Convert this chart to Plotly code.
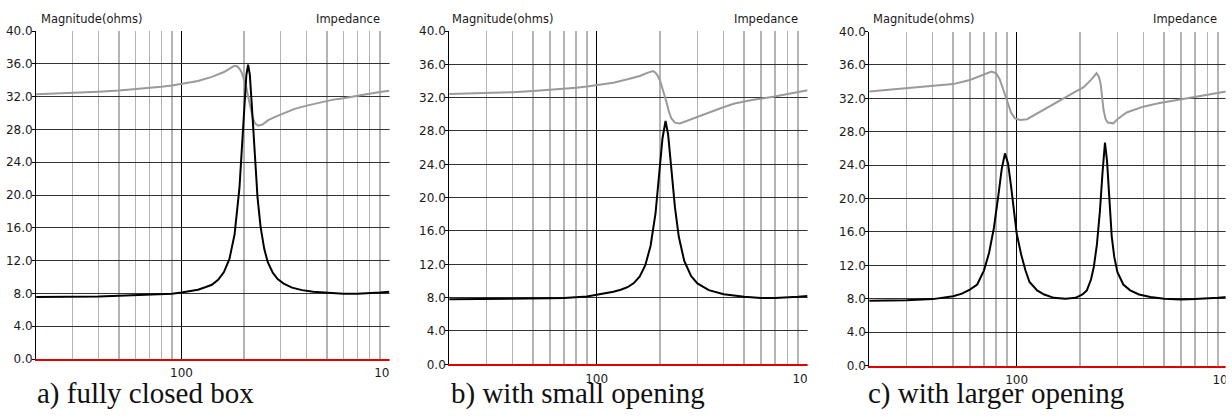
import math
import plotly.graph_objects as go

W, H = 1232, 416

# ---------------- data ----------------
# a) fully closed box
freq_a_mag = [20, 30, 40, 50, 60, 70, 80, 90, 100, 110, 120, 130, 140, 150, 160, 170, 180, 190, 195, 200,
              205, 209, 213, 218, 225, 232, 240, 250, 260, 275, 290, 310, 340, 380, 430, 500, 600, 700, 800, 900, 1000]
mag_a = [7.56, 7.58, 7.62, 7.7, 7.75, 7.8, 7.85, 7.95, 8.1, 8.25, 8.45, 8.75, 9.05, 9.65, 10.6, 12.2, 15.2, 20.9, 25.3, 30.4,
         34.6, 35.9, 34.7, 30.8, 24.5, 19.7, 16.1, 13.4, 11.8, 10.5, 9.75, 9.2, 8.7, 8.4, 8.2, 8.05, 7.95, 7.95, 8.0, 8.1, 8.2]
freq_a_imp = [20, 30, 40, 50, 60, 70, 80, 90, 100, 120, 140, 160, 175, 180, 185, 190, 195, 200, 205, 210,
              215, 220, 226, 234, 245, 260, 280, 310, 350, 400, 450, 530, 600, 700, 800, 900, 1000]
imp_a = [32.3, 32.45, 32.6, 32.75, 32.9, 33.05, 33.2, 33.35, 33.55, 33.9, 34.4, 35.0, 35.6, 35.75, 35.7, 35.4, 34.9, 34.1, 33.1, 31.8,
         30.5, 29.4, 28.7, 28.45, 28.6, 29.1, 29.5, 30.0, 30.5, 30.9, 31.2, 31.6, 31.8, 32.05, 32.35, 32.55, 32.7]

# b) with small opening
freq_b_mag = [20, 30, 40, 50, 60, 70, 80, 90, 100, 110, 120, 130, 140, 150, 160, 170, 180, 190, 195, 200,
              205, 212, 218, 225, 235, 245, 260, 280, 300, 340, 400, 500, 600, 700, 800, 900, 1000]
mag_b = [7.8, 7.82, 7.85, 7.88, 7.92, 7.97, 8.05, 8.15, 8.35, 8.5, 8.7, 8.95, 9.25, 9.75, 10.55, 11.9, 14.2, 18.1, 20.9, 24.1,
         27.1, 29.2, 27.6, 23.9, 18.8, 15.3, 12.4, 10.6, 9.7, 8.9, 8.4, 8.1, 7.95, 7.95, 8.0, 8.1, 8.2]
freq_b_imp = [20, 30, 40, 50, 60, 70, 80, 90, 100, 120, 140, 160, 175, 185, 190, 195, 200, 205, 210, 215,
              220, 226, 235, 248, 260, 280, 309, 350, 398, 450, 552, 686, 800, 955, 1000]
imp_b = [32.45, 32.55, 32.65, 32.8, 32.95, 33.05, 33.2, 33.35, 33.5, 33.8, 34.2, 34.6, 35.0, 35.2, 35.0, 34.6, 34.0, 33.2, 32.2, 31.3,
         30.3, 29.5, 29.0, 28.9, 29.1, 29.4, 29.8, 30.3, 30.85, 31.3, 31.75, 32.1, 32.4, 32.8, 32.9]

# c) with larger opening
freq_c_mag = [20, 30, 40, 50, 55, 60, 65, 70, 74, 78, 82, 85, 88, 91, 94, 97, 100, 105, 110, 115,
              125, 135, 150, 170, 190, 205, 215, 225, 232, 240, 248, 255, 262, 268, 275, 282, 290, 300, 320, 345,
              380, 430, 500, 600, 700, 800, 900, 1000]
mag_c = [7.75, 7.8, 7.95, 8.3, 8.6, 9.1, 9.7, 11.4, 13.5, 16.5, 20.5, 23.6, 25.4, 24.2, 21.5, 18.5, 15.8, 13.3, 11.4, 10.0,
         9.0, 8.5, 8.1, 8.0, 8.1, 8.5, 9.0, 10.3, 11.8, 14.5, 18.5, 23.0, 26.7, 24.5, 19.5, 15.5, 13.0, 11.2, 9.7, 9.0,
         8.5, 8.2, 8.0, 7.9, 7.95, 8.0, 8.1, 8.2]
freq_c_imp = [20, 30, 40, 50, 60, 70, 76, 80, 83, 86, 90, 94, 98, 104, 112, 125, 140, 166, 190, 207,
              225, 239, 245, 250, 254, 258, 264, 270, 287, 300, 332, 398, 470, 573, 700, 800, 968, 1000]
imp_c = [32.8, 33.2, 33.45, 33.7, 34.2, 34.85, 35.2, 35.0, 34.3, 33.2, 31.7, 30.3, 29.6, 29.4, 29.5, 30.2, 30.9, 32.0, 32.8, 33.3,
         34.2, 35.0, 34.6, 33.7, 32.3, 30.6, 29.5, 29.1, 29.0, 29.5, 30.3, 31.0, 31.4, 31.8, 32.2, 32.4, 32.8, 32.85]

# axes
freq_range = [20, 1000]
major_freqs = [100, 1000]
major_labels = ["100", "1000"]
minor_freqs = [30, 40, 50, 60, 70, 80, 90, 200, 300, 400, 500, 600, 700, 800, 900]
y_ticks = [0, 4, 8, 12, 16, 20, 24, 28, 32, 36, 40]
y_labels = ["0.0", "4.0", "8.0", "12.0", "16.0", "20.0", "24.0", "28.0", "32.0", "36.0", "40.0"]
y_title = "Magnitude(ohms)"
chart_title = "Impedance"
captions = ["a) fully closed box", "b) with small opening", "c) with larger opening"]

series = [
    (freq_a_imp, imp_a, freq_a_mag, mag_a),
    (freq_b_imp, imp_b, freq_b_mag, mag_b),
    (freq_c_imp, imp_c, freq_c_mag, mag_c),
]

# ---------------- geometry (pixels) ----------------
panels = [
    dict(x0=36.1, x1=389.5, top=31, bottom=359, mag_x=39, imp_x=382, cap_x=35, cover=(389.6, 416)),
    dict(x0=449.2, x1=807.7, top=31, bottom=364.3, mag_x=450, imp_x=800, cap_x=449, cover=(807.6, 836)),
    dict(x0=869.2, x1=1227.7, top=31.5, bottom=365.5, mag_x=871, imp_x=1219, cap_x=866, cover=(1225.6, 1232)),
]


def px(x):
    return x / W


def py(y):
    return 1 - y / H


TICK_FONT = dict(family="DejaVu Sans", size=12, color="#1a1a1a")
LABEL_FONT = dict(family="DejaVu Sans", size=11.5, color="#1a1a1a")
CAP_FONT = dict(family="Liberation Serif, Times New Roman, serif", size=29, color="#111111")

fig = go.Figure()
layout = dict(
    width=W, height=H,
    margin=dict(l=0, r=0, t=0, b=0, autoexpand=False),
    paper_bgcolor="white", plot_bgcolor="white",
    showlegend=False,
    annotations=[], shapes=[],
)

for i, (p, (fi, zi, fm, zm)) in enumerate(zip(panels, series)):
    n = "" if i == 0 else str(i + 1)
    xa, ya = "x" + n, "y" + n
    fig.add_trace(go.Scatter(x=fi, y=zi, mode="lines", xaxis=xa, yaxis=ya,
                             line=dict(color="#9a9a9a", width=2), hoverinfo="skip"))
    fig.add_trace(go.Scatter(x=fm, y=zm, mode="lines", xaxis=xa, yaxis=ya,
                             line=dict(color="#000000", width=2), hoverinfo="skip"))
    layout["xaxis" + n] = dict(
        domain=[px(p["x0"]), px(p["x1"])], anchor=ya, type="log",
        range=[math.log10(freq_range[0]), math.log10(freq_range[1])],
        tickmode="array", tickvals=major_freqs, ticktext=major_labels,
        showgrid=True, gridcolor="#000000", gridwidth=1,
        minor=dict(tickmode="array", tickvals=minor_freqs, showgrid=True,
                   gridcolor="#b4b4b4", gridwidth=1.5, ticks=""),
        ticks="", tickfont=TICK_FONT, ticklabelstandoff=2, ticklabeloverflow="allow",
        showline=True, linecolor="#e00000", linewidth=2,
        zeroline=False, fixedrange=True, automargin=False,
    )
    layout["yaxis" + n] = dict(
        domain=[py(p["bottom"]), py(p["top"])], anchor=xa,
        range=[0, 40], tickmode="array", tickvals=y_ticks, ticktext=y_labels,
        showgrid=True, gridcolor="#333333", gridwidth=1,
        ticks="outside", ticklen=3, tickcolor="#000000", tickwidth=1,
        tickfont=TICK_FONT, ticklabelstandoff=-3,
        showline=True, linecolor="#000000", linewidth=1,
        zeroline=False, fixedrange=True, automargin=False,
    )
    layout["annotations"] += [
        dict(text=y_title, x=px(p["mag_x"]), y=py(19), xref="paper", yref="paper",
             xanchor="left", yanchor="middle", showarrow=False, font=LABEL_FONT),
        dict(text=chart_title, x=px(p["imp_x"]), y=py(19), xref="paper", yref="paper",
             xanchor="right", yanchor="middle", showarrow=False, font=LABEL_FONT),
        dict(text=captions[i], x=px(p["cap_x"]), y=py(393), xref="paper", yref="paper",
             xanchor="left", yanchor="middle", showarrow=False, font=CAP_FONT),
    ]
    c0, c1 = p["cover"]
    layout["shapes"].append(dict(type="rect", xref="paper", yref="paper",
                                 x0=px(c0), x1=px(c1), y0=py(388), y1=py(25),
                                 fillcolor="white", line=dict(width=0), layer="above"))

fig.update_layout(**layout)
fig.write_html("out.html",
               config={"displayModeBar": False, "staticPlot": True},
               post_script="document.body.style.margin='0';document.body.style.overflow='hidden';")
